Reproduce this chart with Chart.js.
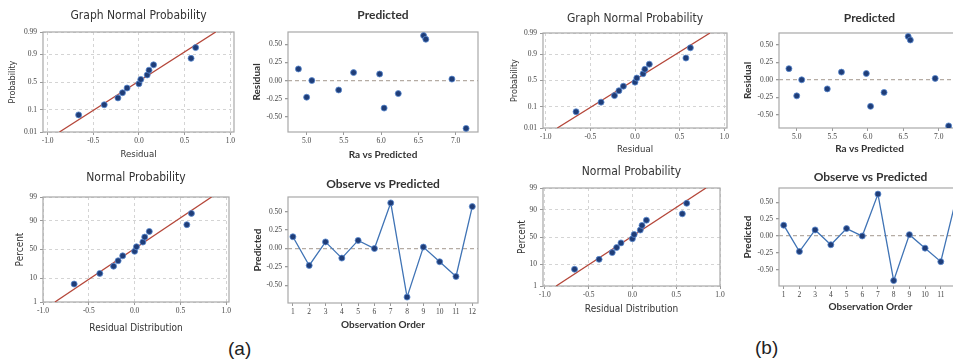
<!DOCTYPE html>
<html>
<head>
<meta charset="utf-8">
<script src="https://cdn.jsdelivr.net/npm/chart.js@4/dist/chart.umd.min.js"></script>
<style>
html, body { margin: 0; padding: 0; background: #fff; width: 953px; height: 364px; overflow: hidden; position: relative; }
canvas { position: absolute; }
.tag { position: absolute; font: 19px 'Liberation Sans', Arial, sans-serif; color: #222; }
</style>
</head>
<body>
<div class="tag" style="left:228px;top:338px">(a)</div>
<div class="tag" style="left:755px;top:337px">(b)</div>
<script>
// residuals in observation order, and the fitted Ra for each run
const obsOrder = [1, 2, 3, 4, 5, 6, 7, 8, 9, 10, 11, 12];
const residuals = [0.16, -0.23, 0.09, -0.13, 0.11, 0.00, 0.62, -0.66, 0.02, -0.18, -0.38, 0.57];
const fitted = [4.89, 5.00, 5.98, 5.43, 5.63, 5.07, 6.57, 7.14, 6.95, 6.23, 6.04, 6.60];

// normal scores of the sorted residuals (probability plot)
const normalScores = [-1.53, -1.06, -0.74, -0.50, -0.28, -0.08, 0.12, 0.33, 0.55, 0.80, 1.10, 1.60];
const fitLineX = [-0.87, 0.84];
const fitLineZ = [-2.326, 2.326];

// tick values / labels
const probTicksZ = [-2.326, -1.282, 0, 1.282, 2.326];
const probLabels = ['0.01', '0.1', '0.5', '0.9', '0.99'];
const pctLabels = ['1', '10', '50', '90', '99'];
const residTicks = [-1, -0.5, 0, 0.5, 1];
const fittedTicks = [5.0, 5.5, 6.0, 6.5, 7.0];
const residYTicks = [-0.5, -0.25, 0, 0.25, 0.5];

const LW = 40, TH = 30, RW = 8, BH = 34;
const sansN = "'Liberation Sans Narrow','DejaVu Sans Condensed','Liberation Sans',sans-serif";
const lato = "Lato,'Liberation Sans',sans-serif";
const tickFont = { family: "'Liberation Serif','DejaVu Serif',serif", size: 7.5 };
const navy = '#1f3d78';

const frame = {
    id: 'frame',
    beforeDatasetsDraw(chart) {
        const { ctx, chartArea: a } = chart;
        ctx.save();
        ctx.strokeStyle = '#a8a8a8';
        ctx.lineWidth = 1.2;
        ctx.strokeRect(a.left, a.top, a.right - a.left, a.bottom - a.top);
        ctx.restore();
    }
};

const sortedResid = residuals.slice().sort((a, b) => a - b);
const probPoints = sortedResid.map((r, i) => ({ x: r, y: normalScores[i] }));
const fitPoints = fitLineX.map((x, i) => ({ x: x, y: fitLineZ[i] }));
const fitsPoints = fitted.map((f, i) => ({ x: f, y: residuals[i] }));
const orderPoints = obsOrder.map((o, i) => ({ x: o, y: residuals[i] }));

function probSets() {
    return [
        { data: probPoints, pointRadius: 3, backgroundColor: navy, borderColor: '#5b8ad0', borderWidth: 0.8 },
        { data: fitPoints, showLine: true, pointRadius: 0, borderColor: '#b5473a', borderWidth: 1.3 }
    ];
}

function panel(p) {
    const c = document.createElement('canvas');
    const w = p.r - p.l + LW + RW, h = p.b - p.t + TH + BH;
    c.width = w; c.height = h;
    c.style.left = (p.l - LW) + 'px';
    c.style.top = (p.t - TH) + 'px';
    document.body.appendChild(c);

    const tlh = p.titleFont.size * 1.2;
    const tpt = p.titleY - (p.t - TH) - tlh / 2;
    const ylh = p.yFont.size * 1.2;
    const xlh = p.xFont.size * 1.2;
    const zeroOnly = p.zeroLine;

    new Chart(c, {
        type: 'scatter',
        data: { datasets: p.datasets },
        options: {
            responsive: false,
            animation: false,
            layout: { padding: { left: 0, top: 0, right: RW, bottom: 0 } },
            plugins: {
                legend: { display: false },
                tooltip: { enabled: false },
                title: {
                    display: true, text: p.title, fullSize: false, color: '#333',
                    font: Object.assign({ lineHeight: 1.2 }, p.titleFont),
                    padding: { top: tpt, bottom: TH - tlh - tpt }
                }
            },
            scales: {
                x: {
                    type: 'linear', min: p.xMin, max: p.xMax,
                    afterBuildTicks: s => { s.ticks = p.xTicks.map(v => ({ value: v })); },
                    afterFit: s => { s.height = BH; },
                    ticks: { font: tickFont, color: '#444', padding: 2, maxRotation: 0, autoSkip: false, callback: p.xFmt },
                    grid: { drawOnChartArea: !zeroOnly, color: '#d4d4d4', tickLength: 3, tickColor: '#999' },
                    border: { display: false, dash: [3, 3] },
                    title: { display: true, text: p.xTitle, color: '#333', font: p.xFont, padding: { top: 0, bottom: p.b + BH - p.xTitleY - xlh / 2 } }
                },
                y: {
                    type: 'linear', min: p.yMin, max: p.yMax,
                    afterBuildTicks: s => { s.ticks = p.yTicks.map(v => ({ value: v })); },
                    afterFit: s => { s.width = LW; },
                    ticks: { font: tickFont, color: '#444', padding: 3, autoSkip: false, callback: p.yFmt },
                    grid: {
                        color: ctx => (!zeroOnly || (ctx.tick && ctx.tick.value === 0)) ? (zeroOnly ? '#b5aca4' : '#d4d4d4') : 'rgba(0,0,0,0)',
                        lineWidth: zeroOnly ? 1.3 : 1,
                        tickLength: 3, tickColor: '#999'
                    },
                    border: { display: false, dash: zeroOnly ? [4, 3] : [3, 3] },
                    title: { display: true, text: p.yTitle, color: '#333', font: p.yFont, padding: { top: p.yTitleX - (p.l - LW) - ylh / 2, bottom: 0 } }
                }
            }
        },
        plugins: [frame]
    });
}

const fmt1 = v => v.toFixed(1);
const fmt2 = v => v.toFixed(2);
const fmtProb = (v, i) => probLabels[i];
const fmtPct = (v, i) => pctLabels[i];
const fmtInt = v => String(v);

function probPanel(l, t, r, b, xMin, xMax, title, titleY, yTitle, yTitleX, xTitle, xTitleY, labels) {
    panel({
        l, t, r, b, xMin, xMax, yMin: -2.326, yMax: 2.326,
        xTicks: residTicks, yTicks: probTicksZ, xFmt: fmt1, yFmt: labels,
        title, titleY, titleFont: { family: sansN, size: 12, weight: 'normal' },
        yTitle, yTitleX, yFont: { family: sansN, size: labels === fmtProb ? 9 : 10 },
        xTitle, xTitleY, xFont: { family: sansN, size: labels === fmtProb ? 9.5 : 10 },
        datasets: probSets()
    });
}

function fitsPanel(l, t, r, b, yMin, yMax, titleY, yTitleX, xTitleY) {
    panel({
        l, t, r, b, xMin: 4.75, xMax: 7.30, yMin, yMax, zeroLine: true,
        xTicks: fittedTicks, yTicks: residYTicks, xFmt: fmt1, yFmt: fmt2,
        title: 'Predicted', titleY, titleFont: { family: lato, size: 12, weight: 'bold' },
        yTitle: 'Residual', yTitleX, yFont: { family: lato, size: 10, weight: 'bold' },
        xTitle: 'Ra vs Predicted', xTitleY, xFont: { family: lato, size: 10, weight: 'bold' },
        datasets: [{ data: fitsPoints, pointRadius: 3, backgroundColor: navy, borderColor: '#5b8ad0', borderWidth: 0.8 }]
    });
}

function orderPanel(l, t, r, b, yMin, yMax, titleY, yTitleX, xTitleY) {
    panel({
        l, t, r, b, xMin: 0.7, xMax: 12.35, yMin, yMax, zeroLine: true,
        xTicks: obsOrder, yTicks: residYTicks, xFmt: fmtInt, yFmt: fmt2,
        title: 'Observe vs Predicted', titleY, titleFont: { family: lato, size: 12, weight: 'bold' },
        yTitle: 'Predicted', yTitleX, yFont: { family: lato, size: 10, weight: 'bold' },
        xTitle: 'Observation Order', xTitleY, xFont: { family: lato, size: 10, weight: 'bold' },
        datasets: [{ data: orderPoints, showLine: true, pointRadius: 3, backgroundColor: navy, borderColor: '#3f73b5', borderWidth: 1.3, pointBorderColor: '#5b8ad0', pointBorderWidth: 0.8 }]
    });
}

// (a)
probPanel(43, 32, 234, 132, -1.05, 1.04, 'Graph Normal Probability', 16, 'Probability', 13, 'Residual', 155, fmtProb);
fitsPanel(288, 32, 478, 132, -0.71, 0.67, 15, 257, 155);
probPanel(43, 197, 229, 302, -1.0, 1.03, 'Normal Probability', 178, 'Percent', 20, 'Residual Distribution', 328, fmtPct);
orderPanel(288, 197, 478, 303, -0.74, 0.70, 184, 258, 325);

// (b)
probPanel(543, 33, 727, 128, -1.03, 1.03, 'Graph Normal Probability', 19, 'Probability', 515, 'Residual', 150, fmtProb);
fitsPanel(779, 33, 960, 128, -0.69, 0.67, 18, 748, 149);
probPanel(543, 188, 720, 286, -1.02, 1.0, 'Normal Probability', 172, 'Percent', 522, 'Residual Distribution', 309, fmtPct);
orderPanel(779, 188, 962, 286, -0.74, 0.71, 177, 748, 307);
</script>
</body>
</html>
